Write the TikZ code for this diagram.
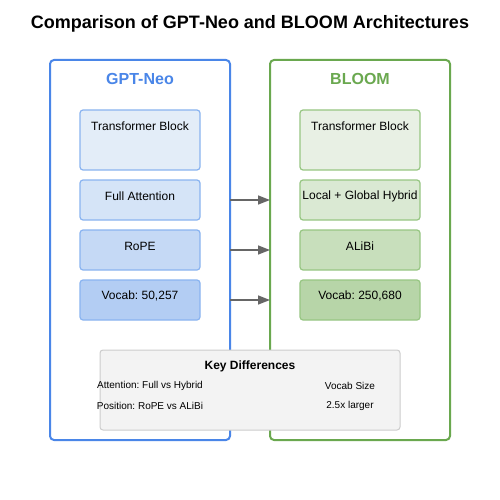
\documentclass[tikz,border=0pt]{standalone}
\usepackage{fontspec}
\setmainfont{Liberation Sans}
\usetikzlibrary{arrows.meta}
\frenchspacing
\definecolor{neoblue}{RGB}{74,134,232}
\definecolor{bloomgreen}{RGB}{106,168,79}
\definecolor{bstroke}{RGB}{138,180,240}
\definecolor{gstroke}{RGB}{151,198,131}
\definecolor{bA}{RGB}{227,237,248}
\definecolor{bB}{RGB}{213,228,247}
\definecolor{bC}{RGB}{197,217,245}
\definecolor{bD}{RGB}{179,205,243}
\definecolor{gA}{RGB}{232,240,228}
\definecolor{gB}{RGB}{218,233,211}
\definecolor{gC}{RGB}{200,223,188}
\definecolor{gD}{RGB}{183,213,168}
\definecolor{keyfill}{RGB}{243,243,243}
\definecolor{keystroke}{RGB}{204,204,204}
\definecolor{arrowgray}{RGB}{102,102,102}
\tikzset{
  outerbox/.style={draw, line width=2pt, rounded corners=4pt},
  comp/.style={draw, line width=1.2pt, rounded corners=3pt},
  lbl/.style={font=\fontsize{12}{14}\selectfont\frenchspacing, text=black, inner sep=0pt},
  small/.style={font=\fontsize{10}{12}\selectfont\frenchspacing, text=black, inner sep=0pt},
  conn/.style={draw=arrowgray, line width=1.5pt, -{Triangle[length=12pt,width=9pt]}},
}
\begin{document}
\begin{tikzpicture}[x=1pt,y=-1pt]
\useasboundingbox (0,0) rectangle (500,500);
\fill[white] (0,0) rectangle (500,500);
\node[font=\bfseries\fontsize{18}{21}\selectfont, inner sep=0pt] (title) at (250,24) {Comparison of GPT-Neo and BLOOM Architectures};

% outer boxes
\draw[outerbox, draw=neoblue] (50,60) rectangle (230,440);
\draw[outerbox, draw=bloomgreen] (270,60) rectangle (450,440);
\node[font=\bfseries\fontsize{16}{19}\selectfont, text=neoblue, inner sep=0pt] (neohead) at (140,79) {GPT-Neo};
\node[font=\bfseries\fontsize{16}{19}\selectfont, text=bloomgreen, inner sep=0pt] (bloomhead) at (360,79) {BLOOM};

% GPT-Neo components
\draw[comp, draw=bstroke, fill=bA] (80,110) rectangle (200,170);
\draw[comp, draw=bstroke, fill=bB] (80,180) rectangle (200,220);
\draw[comp, draw=bstroke, fill=bC] (80,230) rectangle (200,270);
\draw[comp, draw=bstroke, fill=bD] (80,280) rectangle (200,320);
\node[lbl] (n1) at (140,126) {Transformer Block};
\node[lbl] (n2) at (140,196) {Full Attention};
\node[lbl] (n3) at (140,246) {RoPE};
\node[lbl] (n4) at (140,296) {Vocab: 50,257};

% BLOOM components
\draw[comp, draw=gstroke, fill=gA] (300,110) rectangle (420,170);
\draw[comp, draw=gstroke, fill=gB] (300,180) rectangle (420,220);
\draw[comp, draw=gstroke, fill=gC] (300,230) rectangle (420,270);
\draw[comp, draw=gstroke, fill=gD] (300,280) rectangle (420,320);
\node[lbl] (b1) at (360,126) {Transformer Block};
\node[lbl] (b2) at (360,196) {Local + Global Hybrid};
\node[lbl] (b3) at (360,246) {ALiBi};
\node[lbl] (b4) at (360,296) {Vocab: 250,680};

% arrows
\coordinate (a1s) at (230,200); \coordinate (a1e) at (270,200);
\coordinate (a2s) at (230,250); \coordinate (a2e) at (270,250);
\coordinate (a3s) at (230,300); \coordinate (a3e) at (270,300);
\draw[conn] (a1s) -- (a1e);
\draw[conn] (a2s) -- (a2e);
\draw[conn] (a3s) -- (a3e);

% key differences
\draw[draw=keystroke, fill=keyfill, line width=1pt, rounded corners=3pt] (100,350) rectangle (400,430);
\node[font=\bfseries\fontsize{12}{14}\selectfont, inner sep=0pt] (kd) at (250,366) {Key Differences};
\node[small] (k1) at (150,386) {Attention: Full vs Hybrid};
\node[small] (k2) at (150,406) {Position: RoPE vs ALiBi};
\node[small] (k3) at (350,386) {Vocab Size};
\node[small] (k4) at (350,406) {2.5x larger};
\end{tikzpicture}
\end{document}
